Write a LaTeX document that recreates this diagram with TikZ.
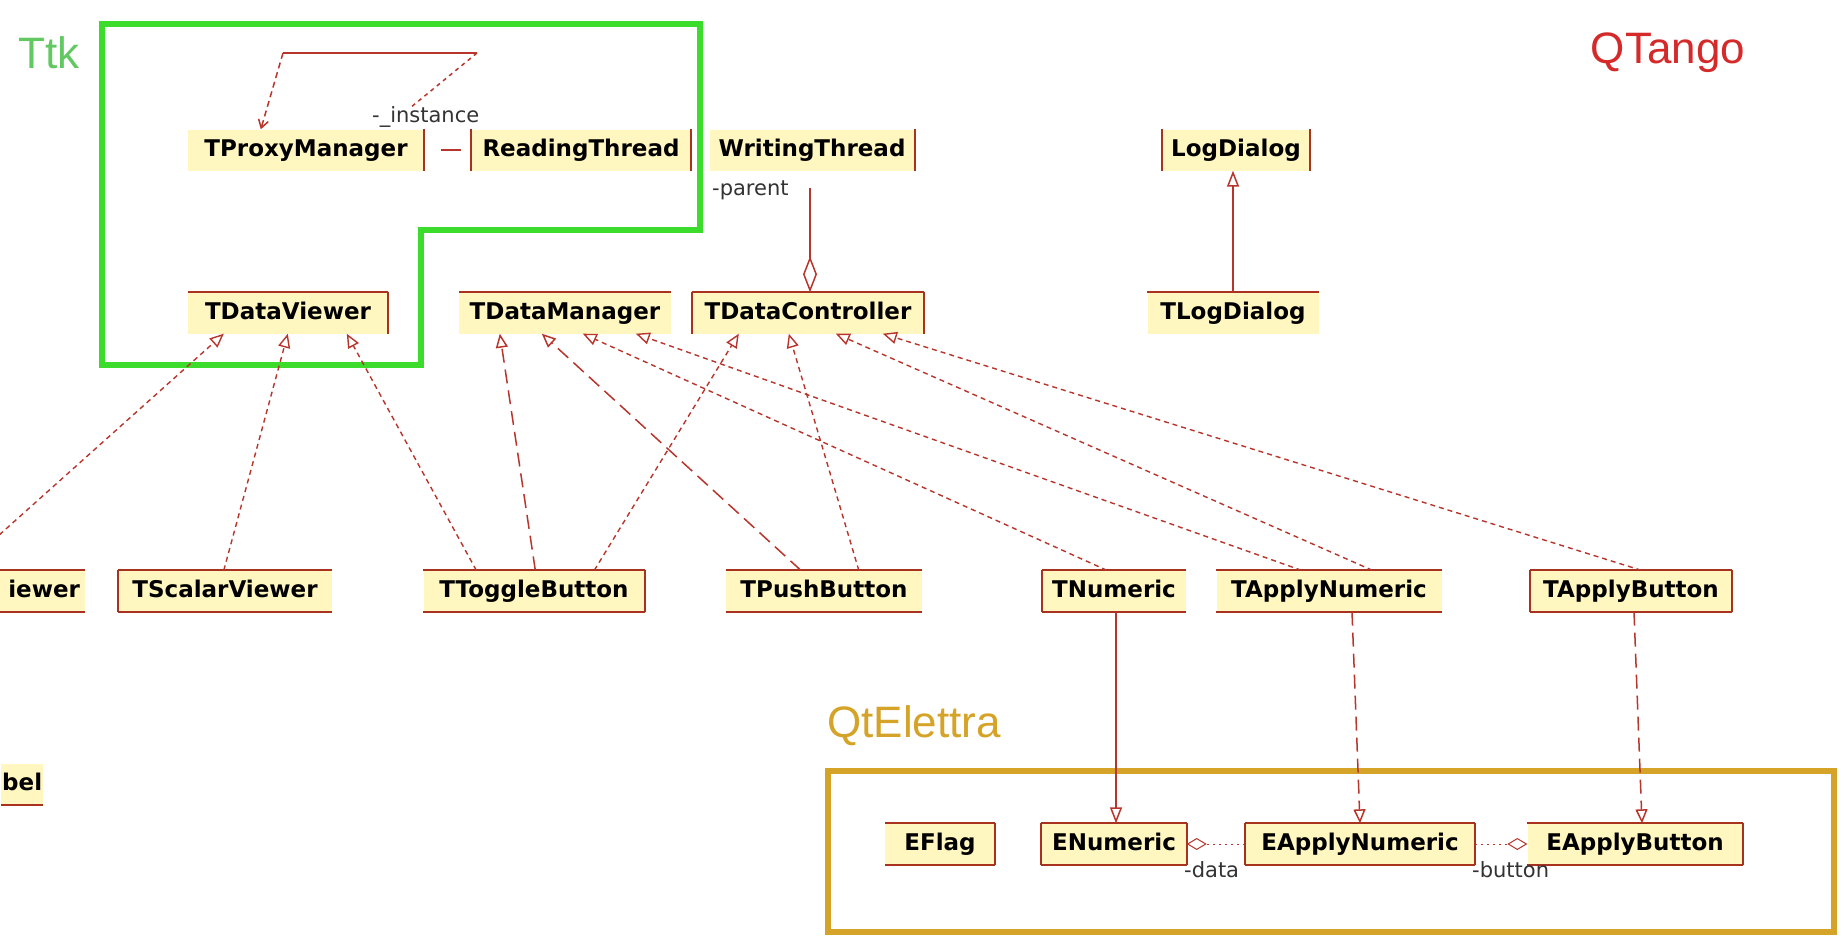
\documentclass[tikz,border=0pt]{standalone}
\usepackage{fontspec}
\setmainfont{DejaVu Sans}
\newfontfamily\pkgfont{Liberation Sans}
\usetikzlibrary{arrows.meta,calc}
\definecolor{clsfill}{HTML}{FFF6C0}
\definecolor{clsline}{HTML}{A8321F}
\definecolor{conn}{HTML}{B8352C}
\definecolor{ttkframe}{HTML}{3CDC2C}
\definecolor{ttktext}{HTML}{62C862}
\definecolor{qtangotext}{HTML}{D42A2A}
\definecolor{elettra}{HTML}{D4A328}
\definecolor{lbl}{HTML}{333333}
\newcommand\clsT[1]{\draw[side] (#1.north west) -- (#1.north east);}
\newcommand\clsB[1]{\draw[side] (#1.south west) -- (#1.south east);}
\newcommand\clsL[1]{\draw[side] (#1.north west) -- (#1.south west);}
\newcommand\clsR[1]{\draw[side] (#1.north east) -- (#1.south east);}
\begin{document}
\begin{tikzpicture}[x=1pt,y=-1pt,
  cls/.style={fill=clsfill, inner sep=0pt, minimum height=41pt, text height=17pt, text depth=5pt, font=\fontsize{23}{27}\selectfont\bfseries},
  side/.style={draw=clsline, line width=2.2pt},
  pkg/.style={font=\pkgfont\fontsize{44}{50}\selectfont, inner sep=0pt},
  role/.style={font=\fontsize{21}{24}\selectfont, text=lbl, inner sep=0pt},
  inh/.style={draw=conn, line width=1.4pt, dash pattern=on 5pt off 4pt, -{Triangle[open,length=14pt,width=12pt]}},
  inhlong/.style={draw=conn, line width=1.5pt, dash pattern=on 14pt off 7pt, -{Triangle[open,length=14pt,width=12pt]}},
  inhsolid/.style={draw=conn, line width=1.5pt, -{Triangle[open,length=16pt,width=12pt]}},
  aggr/.style={draw=conn, line width=1.5pt, -{Diamond[open,length=36pt,width=14pt]}},
  aggrs/.style={draw=conn, line width=1pt, dash pattern=on 2pt off 4pt, -{Diamond[open,length=20pt,width=12pt]}},
  assoc/.style={draw=conn, line width=1.5pt},
]
\useasboundingbox (0,0) rectangle (1846,937);
\clip (0,0) rectangle (1846,937);
\fill[white] (0,0) rectangle (1846,937);

% package frames
\draw[ttkframe, line width=6pt, line join=miter] (102,24) -- (700,24) -- (700,230) -- (421,230) -- (421,365) -- (102,365) -- cycle;
\draw[elettra, line width=6pt] (828,771) rectangle (1834,932);

% package labels
\node[pkg, text=ttktext] (ttk) at (49,53) {Ttk};
\node[pkg, text=qtangotext] (qtango) at (1668,53) {QTango};
\node[pkg, text=elettra] (qtel) at (914,726) {QtElettra};

% classes row 1
\node[cls, minimum width=236pt] (tpm) at (306,150) {TProxyManager};
\node[cls, minimum width=220pt] (rt) at (581,150) {ReadingThread};
\node[cls, minimum width=205pt] (wt) at (812,150) {WritingThread};
\node[cls, minimum width=148pt] (ld) at (1236,150) {LogDialog};
% row 2
\node[cls, minimum width=200pt] (tdv) at (288,313) {TDataViewer};
\node[cls, minimum width=212pt] (tdm) at (565,313) {TDataManager};
\node[cls, minimum width=232pt] (tdc) at (808,313) {TDataController};
\node[cls, minimum width=171pt] (tld) at (1233,313) {TLogDialog};
% row 3
\node[cls, text width=160pt, align=right, inner xsep=5pt] (vw) at (0,591) {iewer};
\node[cls, minimum width=214pt] (tsv) at (225,591) {TScalarViewer};
\node[cls, minimum width=221pt] (ttb) at (534,591) {TToggleButton};
\node[cls, minimum width=196pt] (tpb) at (824,591) {TPushButton};
\node[cls, minimum width=144pt] (tnu) at (1114,591) {TNumeric};
\node[cls, minimum width=225pt] (tan) at (1329,591) {TApplyNumeric};
\node[cls, minimum width=201pt] (tab) at (1631,591) {TApplyButton};
% row 4
\node[cls, anchor=west, inner xsep=1pt] (bel) at (1,784) {bel};
\node[cls, minimum width=110pt] (efl) at (940,844) {EFlag};
\node[cls, minimum width=145pt] (enu) at (1114,844) {ENumeric};
\node[cls, minimum width=230pt] (ean) at (1360,844) {EApplyNumeric};
\node[cls, minimum width=215pt] (eab) at (1635,844) {EApplyButton};

% visible box sides
\clsR{tpm}
\clsL{rt}\clsR{rt}
\clsR{wt}
\clsL{ld}\clsR{ld}
\clsT{tdv}\clsR{tdv}
\clsT{tdm}
\clsT{tdc}\clsL{tdc}\clsR{tdc}
\clsT{tld}
\clsT{vw}\clsB{vw}
\clsL{tsv}\clsT{tsv}\clsB{tsv}
\clsT{ttb}\clsB{ttb}\clsR{ttb}
\clsT{tpb}\clsB{tpb}
\clsL{tnu}\clsT{tnu}\clsB{tnu}
\clsT{tan}\clsB{tan}
\clsL{tab}\clsT{tab}\clsB{tab}\clsR{tab}
\clsB{bel}
\clsT{efl}\clsB{efl}\clsR{efl}
\clsL{enu}\clsT{enu}\clsB{enu}\clsR{enu}
\clsL{ean}\clsT{ean}\clsB{ean}\clsR{ean}
\clsT{eab}\clsB{eab}\clsR{eab}

% self association of TProxyManager
\coordinate (sa1) at (283,53);
\coordinate (sa2) at (477,53);
\coordinate (sa3) at (410,108);
\draw[assoc, dash pattern=on 6pt off 4pt, -{Straight Barb[length=8pt,width=10pt]}] (sa1) -- ($(tpm.north west)+(73,0)$);
\draw[assoc] (sa1) -- (sa2);
\draw[assoc, dash pattern=on 4pt off 4pt] (sa2) -- (sa3);
\node[role, anchor=west] (inst) at (372,117) {-\_instance};

% TProxyManager -- ReadingThread
\draw[assoc, shorten <=17pt, shorten >=10pt] (tpm.east) -- (rt.west);

% WritingThread -parent TDataController
\draw[aggr] ($(wt.south)+(-2,17)$) -- ($(tdc.north)+(2,0)$);
\node[role, anchor=west] (parent) at (712,190) {-parent};

% LogDialog <- TLogDialog
\draw[inhsolid] (tld.north) -- (tld.north |- ld.south);

% inheritance row 3 -> row 2
\coordinate (vwtop) at (-41,571);
\draw[inh] (vwtop) -- ($(tdv.south west)+(36,0)$);
\draw[inh] ($(tsv.north west)+(106,0)$) -- ($(tdv.south west)+(100,0)$);
\draw[inh] ($(ttb.north west)+(53,0)$) -- ($(tdv.south west)+(159,0)$);
\draw[inhlong] ($(ttb.north west)+(112,0)$) -- ($(tdm.south west)+(41,0)$);
\draw[inh] ($(ttb.north west)+(171,0)$) -- ($(tdc.south west)+(47,0)$);
\draw[inhlong] ($(tpb.north west)+(75,0)$) -- ($(tdm.south west)+(83,0)$);
\draw[inh] ($(tpb.north west)+(133,0)$) -- ($(tdc.south west)+(97,0)$);
\draw[inh] ($(tnu.north west)+(65,0)$) -- ($(tdm.south west)+(124,0)$);
\draw[inh] ($(tan.north west)+(85,0)$) -- ($(tdm.south west)+(177,0)$);
\draw[inh] ($(tan.north west)+(156,0)$) -- ($(tdc.south west)+(144,0)$);
\draw[inh] ($(tab.north west)+(111,0)$) -- ($(tdc.south west)+(191,0)$);

% row 3 -> QtElettra
\draw[inhsolid] ($(tnu.south)+(2,0)$) -- ($(enu.north)+(2,0)$);
\draw[inhlong] ($(tan.south)+(23,0)$) -- ($(ean.north)+(0,0)$);
\draw[inhlong] ($(tab.south)+(3,0)$) -- ($(eab.north)+(7,0)$);

% aggregations inside QtElettra
\draw[aggrs] (ean.west) -- (enu.east);
\node[role, anchor=west] (data) at (1184,870) {-data};
\draw[aggrs] (ean.east) -- (eab.west);
\node[role, anchor=west] (button) at (1472,870) {-button};
\end{tikzpicture}
\end{document}
